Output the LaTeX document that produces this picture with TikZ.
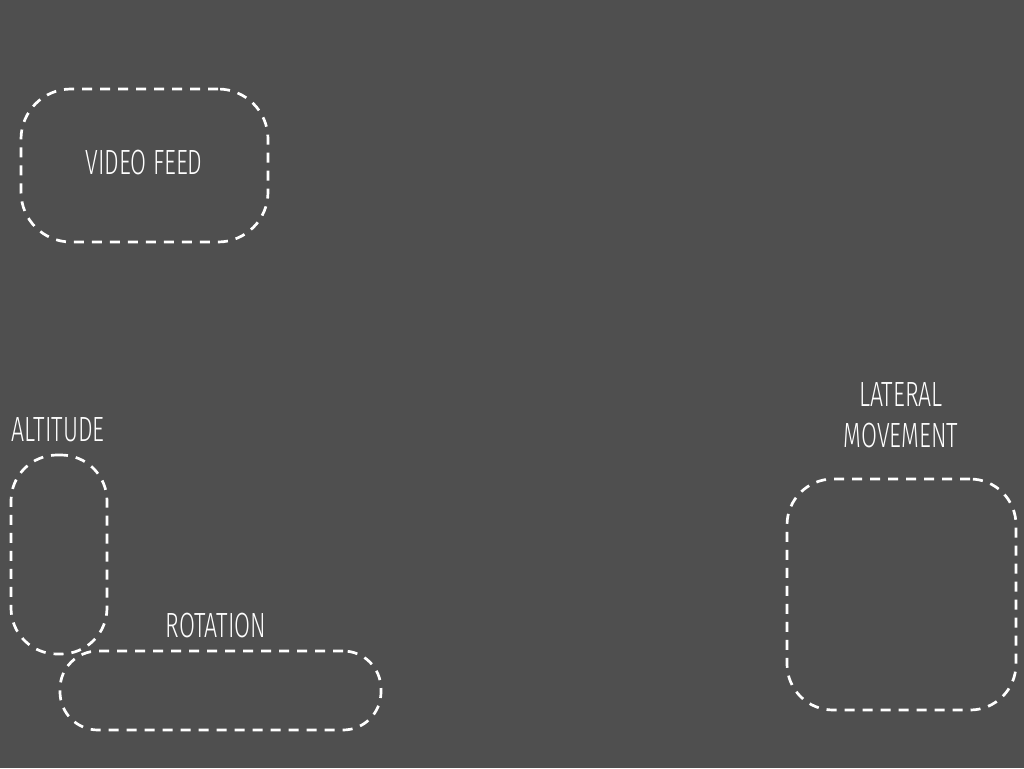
\documentclass[tikz,border=0pt]{standalone}
\usepackage{fontspec}
\setmainfont{Fira Sans}[UprightFont={* Light},FakeStretch=0.66]
\begin{document}
\begin{tikzpicture}[x=1pt,y=-1pt,
  zone/.style={draw=white,line width=2.7pt,dash pattern=on 10pt off 8pt,rounded corners=#1,inner sep=0pt,outer sep=0pt,anchor=north west},
  lbl/.style={text=white,font=\fontsize{35}{41}\selectfont,inner sep=0pt,align=center}]
\fill[fill={rgb,255:red,79;green,79;blue,79}] (0,0) rectangle (1024,768);
\useasboundingbox (0,0) rectangle (1024,768);
\node[zone=50pt,minimum width=247pt,minimum height=153pt] (video) at (21,89) {};
\node[lbl] (videot) at (144,163) {VIDEO FEED};
\node[zone=46pt,minimum width=96pt,minimum height=199pt] (alt) at (11,455) {};
\node[lbl] (altt) at (58,430) {ALTITUDE};
\node[zone=38pt,minimum width=321pt,minimum height=79pt] (rot) at (60,651) {};
\node[lbl] (rott) at (216,626) {ROTATION};
\node[zone=46pt,minimum width=229pt,minimum height=231pt] (lat) at (787,479) {};
\node[lbl] (latt) at (901,415) {LATERAL\\MOVEMENT};
\end{tikzpicture}
\end{document}
